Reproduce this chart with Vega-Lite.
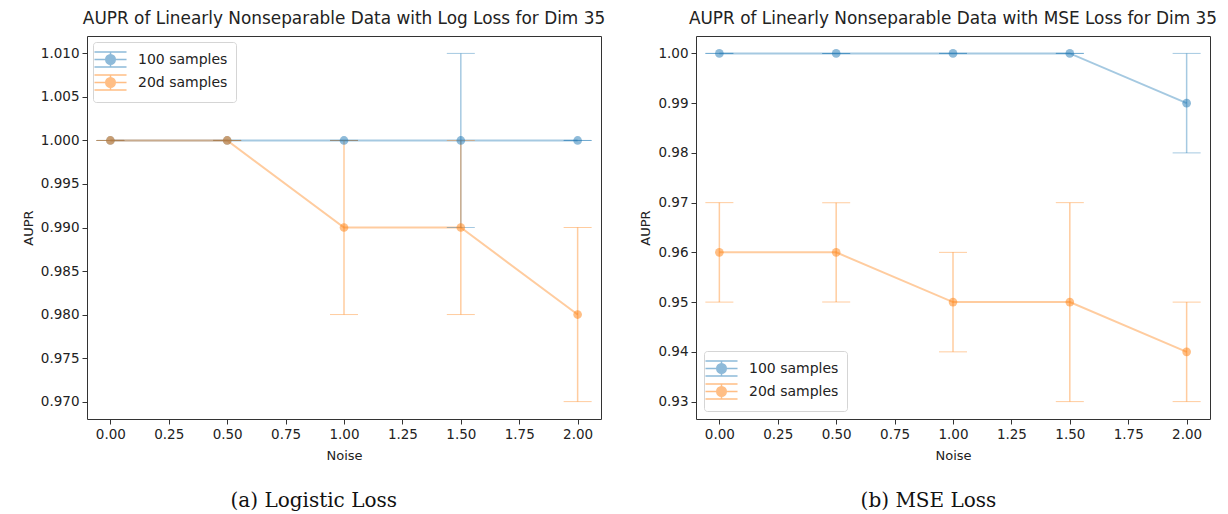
{
  "$schema": "https://vega.github.io/schema/vega-lite/v6.json",
  "background": "white",
  "padding": {"left": 21, "top": 9, "right": 5, "bottom": 5},
  "config": {
    "font": "DejaVu Sans",
    "view": {"stroke": "#333", "strokeWidth": 1},
    "axis": {"grid": false, "domain": false, "tickColor": "#333", "tickSize": 5, "labelFontSize": 13.5, "labelColor": "#222", "titleFontSize": 13, "titleFontWeight": "normal", "titleColor": "#222", "labelPadding": 3, "titlePadding": 5},
    "axisX": {"titlePadding": 9},
    "title": {"fontSize": 16.9, "fontWeight": "normal", "color": "#222", "offset": 8},
    "concat": {"spacing": 33}
  },
  "datasets": {
    "d": [
      {"panel": "log", "series": "100 samples", "noise": 0.0, "aupr": 1.0, "lo": 1.0, "hi": 1.0},
      {"panel": "log", "series": "100 samples", "noise": 0.5, "aupr": 1.0, "lo": 1.0, "hi": 1.0},
      {"panel": "log", "series": "100 samples", "noise": 1.0, "aupr": 1.0, "lo": 1.0, "hi": 1.0},
      {"panel": "log", "series": "100 samples", "noise": 1.5, "aupr": 1.0, "lo": 0.99, "hi": 1.01},
      {"panel": "log", "series": "100 samples", "noise": 2.0, "aupr": 1.0, "lo": 1.0, "hi": 1.0},
      {"panel": "log", "series": "20d samples", "noise": 0.0, "aupr": 1.0, "lo": 1.0, "hi": 1.0},
      {"panel": "log", "series": "20d samples", "noise": 0.5, "aupr": 1.0, "lo": 1.0, "hi": 1.0},
      {"panel": "log", "series": "20d samples", "noise": 1.0, "aupr": 0.99, "lo": 0.98, "hi": 1.0},
      {"panel": "log", "series": "20d samples", "noise": 1.5, "aupr": 0.99, "lo": 0.98, "hi": 1.0},
      {"panel": "log", "series": "20d samples", "noise": 2.0, "aupr": 0.98, "lo": 0.97, "hi": 0.99},
      {"panel": "mse", "series": "100 samples", "noise": 0.0, "aupr": 1.0, "lo": 1.0, "hi": 1.0},
      {"panel": "mse", "series": "100 samples", "noise": 0.5, "aupr": 1.0, "lo": 1.0, "hi": 1.0},
      {"panel": "mse", "series": "100 samples", "noise": 1.0, "aupr": 1.0, "lo": 1.0, "hi": 1.0},
      {"panel": "mse", "series": "100 samples", "noise": 1.5, "aupr": 1.0, "lo": 1.0, "hi": 1.0},
      {"panel": "mse", "series": "100 samples", "noise": 2.0, "aupr": 0.99, "lo": 0.98, "hi": 1.0},
      {"panel": "mse", "series": "20d samples", "noise": 0.0, "aupr": 0.96, "lo": 0.95, "hi": 0.97},
      {"panel": "mse", "series": "20d samples", "noise": 0.5, "aupr": 0.96, "lo": 0.95, "hi": 0.97},
      {"panel": "mse", "series": "20d samples", "noise": 1.0, "aupr": 0.95, "lo": 0.94, "hi": 0.96},
      {"panel": "mse", "series": "20d samples", "noise": 1.5, "aupr": 0.95, "lo": 0.93, "hi": 0.97},
      {"panel": "mse", "series": "20d samples", "noise": 2.0, "aupr": 0.94, "lo": 0.93, "hi": 0.95}
    ]
  },
  "resolve": {"scale": {"x": "independent", "y": "independent", "color": "independent"}, "legend": {"color": "independent"}},
  "hconcat": [
    {
      "title": {"text": "(a) Logistic Loss", "orient": "bottom", "anchor": "middle", "font": "DejaVu Serif", "fontSize": 20, "offset": 28, "color": "#111"},
      "resolve": {"scale": {"color": "independent"}, "legend": {"color": "independent"}},
      "vconcat": [
        {
          "title": "AUPR of Linearly Nonseparable Data with Log Loss for Dim 35",
          "width": 514, "height": 383,
          "data": {"name": "d"},
          "transform": [{"filter": "datum.panel === 'log'"}],
          "encoding": {
            "x": {"field": "noise", "type": "quantitative", "title": "Noise", "scale": {"domain": [-0.1, 2.1], "nice": false, "zero": false}, "axis": {"values": [0, 0.25, 0.5, 0.75, 1.0, 1.25, 1.5, 1.75, 2.0], "format": ".2f"}},
            "color": {"field": "series", "type": "nominal", "scale": {"domain": ["100 samples", "20d samples"], "range": ["#1f77b4", "#ff7f0e"]},
              "legend": {"title": null, "orient": "top-left", "offset": 6, "labelFontSize": 14, "labelColor": "#222", "strokeColor": "#d5d5d5", "fillColor": "white", "padding": 8, "cornerRadius": 3, "symbolType": "M-1.85,0H1.85M-1.85,-0.87H1.85M-1.85,0.87H1.85M0,-0.87V0.87M-0.55,0A0.55,0.55 0 1,1 0.55,0A0.55,0.55 0 1,1 -0.55,0Z", "symbolSize": 300, "symbolStrokeWidth": 1.5, "symbolOpacity": 0.5, "symbolFillColor": "transparent", "rowPadding": 0, "labelOffset": 18}}
          },
          "layer": [
            {"mark": {"type": "line", "opacity": 0.4, "strokeWidth": 2},
             "encoding": {"y": {"field": "aupr", "type": "quantitative", "title": "AUPR", "scale": {"domain": [0.968, 1.012], "nice": false, "zero": false}, "axis": {"values": [0.97, 0.975, 0.98, 0.985, 0.99, 0.995, 1.0, 1.005, 1.01], "format": ".3f"}}}},
            {"mark": {"type": "errorbar", "ticks": {"size": 28, "opacity": 0.4, "strokeWidth": 1.5}, "rule": {"opacity": 0.4, "strokeWidth": 1.5}},
             "encoding": {"y": {"field": "lo", "type": "quantitative", "title": "AUPR"}, "y2": {"field": "hi"}}},
            {"mark": {"type": "point", "filled": true, "opacity": 0.5, "size": 75},
             "encoding": {"y": {"field": "aupr", "type": "quantitative", "title": "AUPR"}}}
          ]
        }
      ]
    },
    {
      "title": {"text": "(b) MSE Loss", "orient": "bottom", "anchor": "middle", "font": "DejaVu Serif", "fontSize": 20, "offset": 28, "color": "#111"},
      "resolve": {"scale": {"color": "independent"}, "legend": {"color": "independent"}},
      "vconcat": [
        {
          "title": "AUPR of Linearly Nonseparable Data with MSE Loss for Dim 35",
          "width": 514, "height": 383,
          "data": {"name": "d"},
          "transform": [{"filter": "datum.panel === 'mse'"}],
          "encoding": {
            "x": {"field": "noise", "type": "quantitative", "title": "Noise", "scale": {"domain": [-0.1, 2.1], "nice": false, "zero": false}, "axis": {"values": [0, 0.25, 0.5, 0.75, 1.0, 1.25, 1.5, 1.75, 2.0], "format": ".2f"}},
            "color": {"field": "series", "type": "nominal", "scale": {"domain": ["100 samples", "20d samples"], "range": ["#1f77b4", "#ff7f0e"]},
              "legend": {"title": null, "orient": "bottom-left", "offset": 8, "labelFontSize": 14, "labelColor": "#222", "strokeColor": "#d5d5d5", "fillColor": "white", "padding": 8, "cornerRadius": 3, "symbolType": "M-1.85,0H1.85M-1.85,-0.87H1.85M-1.85,0.87H1.85M0,-0.87V0.87M-0.55,0A0.55,0.55 0 1,1 0.55,0A0.55,0.55 0 1,1 -0.55,0Z", "symbolSize": 300, "symbolStrokeWidth": 1.5, "symbolOpacity": 0.5, "symbolFillColor": "transparent", "rowPadding": 0, "labelOffset": 18}}
          },
          "layer": [
            {"mark": {"type": "line", "opacity": 0.4, "strokeWidth": 2},
             "encoding": {"y": {"field": "aupr", "type": "quantitative", "title": "AUPR", "scale": {"domain": [0.9265, 1.0035], "nice": false, "zero": false}, "axis": {"values": [0.93, 0.94, 0.95, 0.96, 0.97, 0.98, 0.99, 1.0], "format": ".2f"}}}},
            {"mark": {"type": "errorbar", "ticks": {"size": 28, "opacity": 0.4, "strokeWidth": 1.5}, "rule": {"opacity": 0.4, "strokeWidth": 1.5}},
             "encoding": {"y": {"field": "lo", "type": "quantitative", "title": "AUPR"}, "y2": {"field": "hi"}}},
            {"mark": {"type": "point", "filled": true, "opacity": 0.5, "size": 75},
             "encoding": {"y": {"field": "aupr", "type": "quantitative", "title": "AUPR"}}}
          ]
        }
      ]
    }
  ]
}
